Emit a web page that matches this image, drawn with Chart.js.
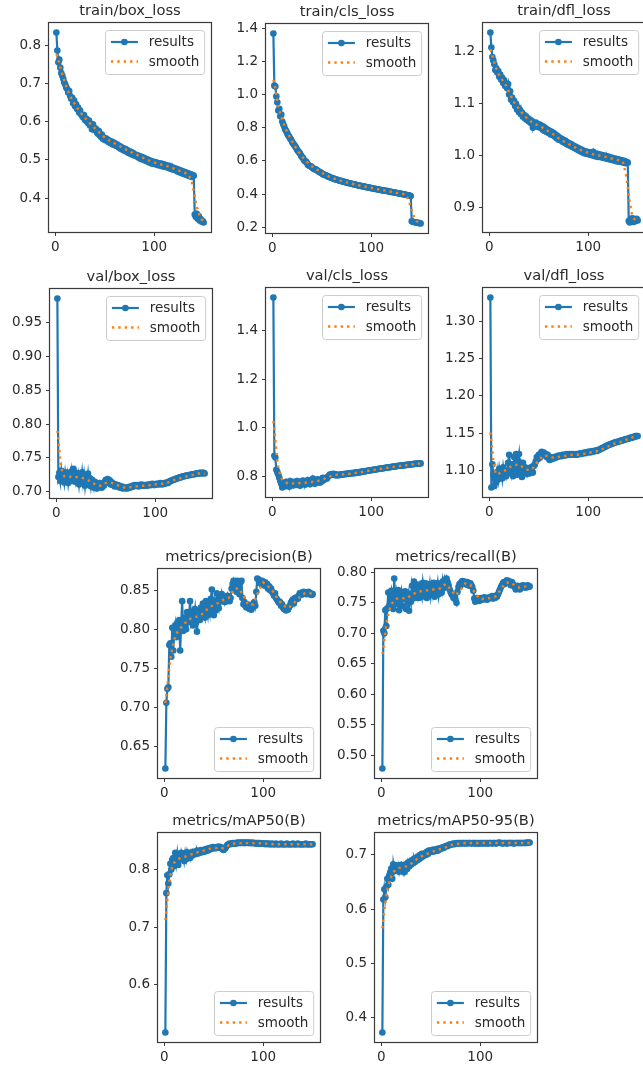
<!DOCTYPE html>
<html><head><meta charset="utf-8">
<script src="https://cdn.jsdelivr.net/npm/chart.js@4.4.0/dist/chart.umd.min.js"></script>
<style>
html,body{margin:0;padding:0;background:#fff;width:643px;height:1065px;overflow:hidden;position:relative}
.pane{position:absolute}
.pane canvas{display:block}
</style></head><body>
<script>
// ---------- data ----------
const EPOCHS = [1,2,3,4,5,6,7,8,9,10,11,12,13,14,15,16,17,18,19,20,21,22,23,24,25,26,27,28,29,30,31,32,33,34,35,36,37,38,39,40,41,42,43,44,45,46,47,48,49,50,51,52,53,54,55,56,57,58,59,60,61,62,63,64,65,66,67,68,69,70,71,72,73,74,75,76,77,78,79,80,81,82,83,84,85,86,87,88,89,90,91,92,93,94,95,96,97,98,99,100,101,102,103,104,105,106,107,108,109,110,111,112,113,114,115,116,117,118,119,120,121,122,123,124,125,126,127,128,129,130,131,132,133,134,135,136,137,138,139,140,141,142,143,144,145,146,147,148,149,150];
const SMOOTH_EPOCHS = [1,2,3,4,5,6,8,10,13,16,20,25,30,35,40,45,50,55,60,65,70,75,80,85,90,95,100,105,110,115,120,125,130,135,138,140,142,144,146,148,150];

const TITLES = ['train/box_loss','train/cls_loss','train/dfl_loss','val/box_loss','val/cls_loss','val/dfl_loss','metrics/precision(B)','metrics/recall(B)','metrics/mAP50(B)','metrics/mAP50-95(B)'];
const SERIES_LABELS = ['results','smooth'];
const X_TICKS = ['0','100'];

const TRAIN_BOX = [0.833,0.786,0.755,0.762,0.741,0.727,0.720,0.712,0.702,0.697,
0.689,0.685,0.676,0.680,0.667,0.660,0.662,0.648,0.655,0.640,
0.645,0.633,0.637,0.624,0.629,0.619,0.615,0.611,0.617,0.604,
0.608,0.600,0.596,0.603,0.591,0.589,0.580,0.593,0.585,0.578,
0.581,0.572,0.568,0.575,0.564,0.560,0.566,0.555,0.558,0.552,
0.556,0.550,0.553,0.546,0.549,0.543,0.548,0.540,0.545,0.538,
0.542,0.536,0.539,0.532,0.536,0.529,0.533,0.526,0.530,0.524,
0.528,0.521,0.525,0.518,0.522,0.516,0.520,0.513,0.517,0.511,
0.514,0.509,0.512,0.506,0.510,0.503,0.508,0.501,0.506,0.499,
0.503,0.497,0.501,0.494,0.499,0.492,0.497,0.490,0.495,0.489,
0.494,0.488,0.492,0.486,0.491,0.485,0.490,0.483,0.489,0.482,
0.487,0.481,0.485,0.479,0.484,0.477,0.482,0.475,0.480,0.474,
0.478,0.472,0.476,0.469,0.474,0.467,0.472,0.465,0.470,0.463,
0.468,0.461,0.466,0.459,0.464,0.457,0.462,0.455,0.460,0.458,
0.357,0.351,0.359,0.346,0.353,0.341,0.345,0.338,0.340,0.336];
const TRAIN_BOX_SMOOTH = [0.776,0.770,0.762,0.752,0.742,0.732,0.715,0.699,0.679,0.662,
0.644,0.625,0.610,0.595,0.583,0.570,0.558,0.550,0.543,0.536,0.529,0.522,0.516,0.510,0.504,0.498,0.493,0.489,0.486,0.482,0.477,0.472,0.467,0.461,
0.442,0.418,0.390,0.370,0.353,0.344,0.339];

const TRAIN_CLS = [1.370,1.055,1.050,0.990,0.955,0.905,0.915,0.870,0.880,0.838,
0.822,0.808,0.790,0.781,0.768,0.755,0.748,0.735,0.728,0.714,
0.705,0.698,0.688,0.680,0.667,0.660,0.652,0.645,0.632,0.624,
0.618,0.605,0.598,0.596,0.588,0.576,0.572,0.569,0.568,0.562,
0.556,0.553,0.548,0.550,0.543,0.540,0.535,0.531,0.530,0.526,
0.520,0.518,0.515,0.513,0.510,0.507,0.505,0.501,0.500,0.497,
0.495,0.493,0.490,0.489,0.487,0.485,0.483,0.481,0.480,0.478,
0.476,0.475,0.473,0.471,0.470,0.468,0.467,0.465,0.464,0.462,
0.461,0.459,0.458,0.457,0.455,0.454,0.452,0.451,0.450,0.448,
0.447,0.446,0.445,0.443,0.442,0.441,0.440,0.438,0.437,0.436,
0.435,0.433,0.432,0.431,0.430,0.429,0.428,0.426,0.425,0.424,
0.423,0.422,0.421,0.420,0.418,0.420,0.417,0.415,0.414,0.413,
0.412,0.411,0.410,0.409,0.408,0.406,0.405,0.404,0.403,0.402,
0.400,0.399,0.398,0.397,0.396,0.394,0.393,0.392,0.390,0.388,
0.236,0.233,0.231,0.230,0.229,0.228,0.226,0.225,0.224,0.222];
const TRAIN_CLS_SMOOTH = [1.090,1.070,1.040,1.000,0.965,0.935,0.885,0.848,0.800,0.763,
0.718,0.668,0.627,0.594,0.568,0.548,0.528,0.512,0.499,0.488,0.479,0.471,0.463,0.456,0.449,0.443,0.437,0.431,0.425,0.420,0.414,0.408,0.403,0.397,
0.360,0.322,0.282,0.252,0.236,0.229,0.226];

const TRAIN_DFL = [1.237,1.208,1.190,1.183,1.176,1.165,1.168,1.160,1.163,1.152,
1.156,1.146,1.150,1.140,1.145,1.134,1.139,1.130,1.138,1.118,
1.124,1.108,1.112,1.103,1.106,1.096,1.100,1.089,1.093,1.084,
1.088,1.080,1.083,1.075,1.079,1.072,1.076,1.069,1.072,1.066,
1.070,1.063,1.067,1.054,1.062,1.058,1.064,1.057,1.061,1.055,
1.060,1.054,1.058,1.050,1.056,1.048,1.053,1.046,1.050,1.044,
1.048,1.041,1.046,1.040,1.044,1.037,1.041,1.034,1.038,1.031,
1.035,1.030,1.033,1.027,1.031,1.025,1.029,1.023,1.026,1.021,
1.024,1.019,1.022,1.017,1.020,1.015,1.018,1.013,1.016,1.011,
1.014,1.009,1.012,1.007,1.010,1.005,1.009,1.004,1.008,1.003,
1.007,1.002,1.006,1.001,1.008,1.000,1.005,0.999,1.004,0.998,
1.003,0.998,1.002,0.997,1.001,0.996,1.000,0.995,0.999,0.994,
0.998,0.993,0.997,0.992,0.996,0.991,0.995,0.990,0.994,0.989,
0.993,0.989,0.992,0.988,0.991,0.987,0.990,0.986,0.988,0.987,
0.875,0.872,0.879,0.874,0.880,0.873,0.877,0.875,0.879,0.876];
const TRAIN_DFL_SMOOTH = [1.205,1.200,1.193,1.186,1.179,1.172,1.163,1.155,1.146,1.138,
1.122,1.103,1.090,1.078,1.069,1.062,1.058,1.053,1.047,1.041,1.034,1.028,1.023,1.018,1.013,1.009,1.006,1.003,1.001,0.999,0.997,0.994,0.992,0.989,
0.966,0.940,0.911,0.890,0.880,0.877,0.877];

const VAL_BOX = [0.985,0.722,0.728,0.716,0.731,0.719,0.725,0.714,0.729,0.720,
0.727,0.713,0.724,0.718,0.730,0.716,0.734,0.721,0.715,0.728,
0.719,0.726,0.711,0.723,0.717,0.729,0.714,0.725,0.709,0.722,
0.716,0.727,0.712,0.720,0.708,0.718,0.713,0.706,0.715,0.710,
0.705,0.711,0.707,0.713,0.708,0.706,0.712,0.709,0.715,0.718,
0.716,0.719,0.713,0.717,0.711,0.714,0.710,0.712,0.708,0.711,
0.709,0.710,0.707,0.709,0.706,0.708,0.705,0.707,0.706,0.705,
0.706,0.705,0.707,0.706,0.708,0.707,0.709,0.708,0.710,0.709,
0.709,0.710,0.708,0.710,0.709,0.711,0.709,0.710,0.709,0.710,
0.710,0.709,0.711,0.710,0.711,0.710,0.712,0.711,0.710,0.711,
0.712,0.711,0.712,0.711,0.713,0.712,0.711,0.712,0.713,0.712,
0.713,0.714,0.713,0.715,0.716,0.716,0.717,0.718,0.718,0.719,
0.719,0.720,0.720,0.721,0.721,0.722,0.722,0.723,0.723,0.723,
0.724,0.724,0.724,0.725,0.725,0.725,0.726,0.726,0.726,0.726,
0.727,0.727,0.727,0.727,0.728,0.728,0.727,0.728,0.728,0.727];
const VAL_BOX_SMOOTH = [0.790,0.778,0.762,0.746,0.736,0.729,0.723,0.722,0.722,0.723,
0.722,0.721,0.719,0.715,0.710,0.709,0.713,0.714,0.711,0.708,0.706,0.707,0.708,0.709,0.709,0.710,0.711,0.712,0.712,0.715,0.718,0.720,0.722,0.724,
0.725,0.726,0.727,0.727,0.727,0.727,0.727];

const VAL_CLS = [1.535,0.885,0.878,0.828,0.818,0.808,0.795,0.782,0.770,0.755,
0.762,0.772,0.760,0.778,0.766,0.773,0.758,0.781,0.769,0.775,
0.763,0.778,0.770,0.765,0.781,0.768,0.774,0.762,0.779,0.771,
0.784,0.772,0.766,0.776,0.770,0.786,0.773,0.768,0.779,0.774,
0.792,0.778,0.770,0.783,0.776,0.789,0.780,0.775,0.784,0.780,
0.795,0.786,0.790,0.794,0.791,0.798,0.802,0.808,0.806,0.810,
0.808,0.811,0.806,0.809,0.804,0.807,0.805,0.808,0.807,0.809,
0.808,0.810,0.809,0.811,0.810,0.812,0.811,0.813,0.812,0.814,
0.813,0.815,0.814,0.816,0.815,0.817,0.816,0.818,0.818,0.819,
0.820,0.821,0.821,0.822,0.823,0.824,0.824,0.825,0.826,0.826,
0.827,0.828,0.828,0.829,0.830,0.830,0.831,0.832,0.832,0.833,
0.833,0.834,0.835,0.835,0.836,0.837,0.837,0.838,0.838,0.839,
0.840,0.840,0.841,0.841,0.842,0.843,0.843,0.844,0.844,0.845,
0.845,0.846,0.846,0.847,0.847,0.848,0.848,0.849,0.849,0.850,
0.850,0.851,0.851,0.852,0.852,0.853,0.853,0.853,0.854,0.854];
const VAL_CLS_SMOOTH = [1.028,0.995,0.950,0.905,0.868,0.840,0.805,0.787,0.776,0.772,
0.772,0.772,0.774,0.775,0.778,0.781,0.786,0.795,0.803,0.807,0.808,0.810,0.812,0.815,0.818,0.822,0.826,0.829,0.832,0.835,0.838,0.841,0.844,0.846,
0.848,0.849,0.850,0.851,0.852,0.853,0.853];

const VAL_DFL = [1.332,1.077,1.108,1.094,1.079,1.091,1.084,1.098,1.088,1.102,
1.093,1.099,1.089,1.104,1.095,1.100,1.092,1.098,1.110,1.121,
1.104,1.096,1.108,1.092,1.118,1.101,1.122,1.094,1.113,1.122,
1.099,1.106,1.091,1.110,1.097,1.104,1.099,1.095,1.102,1.098,
1.096,1.104,1.100,1.097,1.106,1.108,1.112,1.118,1.115,1.121,
1.117,1.123,1.125,1.122,1.124,1.120,1.122,1.118,1.121,1.116,
1.114,1.118,1.115,1.117,1.116,1.118,1.117,1.119,1.118,1.120,
1.119,1.120,1.119,1.121,1.120,1.121,1.120,1.122,1.121,1.121,
1.122,1.121,1.122,1.121,1.122,1.121,1.121,1.122,1.121,1.122,
1.122,1.123,1.122,1.123,1.123,1.124,1.123,1.124,1.124,1.125,
1.125,1.124,1.125,1.126,1.125,1.126,1.126,1.127,1.126,1.127,
1.128,1.128,1.129,1.130,1.130,1.131,1.132,1.132,1.133,1.134,
1.134,1.135,1.135,1.136,1.136,1.137,1.137,1.138,1.138,1.138,
1.139,1.139,1.140,1.140,1.140,1.141,1.141,1.142,1.142,1.142,
1.143,1.143,1.144,1.144,1.144,1.145,1.145,1.146,1.146,1.146];
const VAL_DFL_SMOOTH = [1.151,1.140,1.127,1.114,1.104,1.098,1.094,1.096,1.098,1.100,
1.104,1.107,1.108,1.103,1.100,1.104,1.114,1.120,1.119,1.117,1.118,1.119,1.120,1.121,1.121,1.122,1.123,1.125,1.126,1.129,1.132,1.135,1.137,1.139,
1.141,1.142,1.143,1.144,1.145,1.145,1.146];

const PRECISION = [0.622,0.706,0.724,0.726,0.780,0.782,0.765,0.802,0.773,0.795,
0.805,0.790,0.808,0.798,0.812,0.773,0.806,0.836,0.798,0.810,
0.815,0.800,0.822,0.809,0.818,0.836,0.812,0.820,0.805,0.817,
0.826,0.808,0.797,0.819,0.823,0.812,0.828,0.816,0.833,0.820,
0.815,0.836,0.826,0.818,0.831,0.822,0.839,0.851,0.829,0.818,
0.834,0.824,0.846,0.832,0.827,0.841,0.836,0.845,0.838,0.842,
0.835,0.840,0.836,0.843,0.838,0.836,0.840,0.852,0.858,0.862,
0.855,0.860,0.848,0.862,0.850,0.845,0.860,0.862,0.840,0.832,
0.835,0.830,0.828,0.832,0.830,0.826,0.829,0.825,0.828,0.833,
0.835,0.830,0.848,0.865,0.864,0.860,0.862,0.858,0.862,0.859,
0.856,0.860,0.855,0.858,0.852,0.855,0.850,0.852,0.848,0.846,
0.843,0.846,0.840,0.838,0.836,0.834,0.835,0.830,0.832,0.828,
0.826,0.828,0.824,0.826,0.825,0.828,0.830,0.834,0.836,0.838,
0.833,0.840,0.838,0.841,0.839,0.843,0.846,0.844,0.847,0.845,
0.848,0.846,0.847,0.845,0.846,0.848,0.845,0.846,0.844,0.845];
const PRECISION_SMOOTH = [0.706,0.716,0.728,0.740,0.751,0.761,0.776,0.787,0.796,0.801,
0.807,0.813,0.815,0.817,0.821,0.828,0.831,0.834,0.838,0.840,0.851,0.853,0.843,0.831,0.832,0.848,0.860,0.855,0.848,0.838,0.831,0.827,0.832,0.839,
0.842,0.844,0.846,0.846,0.846,0.846,0.846];

const RECALL = [0.478,0.704,0.700,0.738,0.712,0.741,0.767,0.745,0.763,0.770,
0.752,0.740,0.790,0.755,0.766,0.748,0.771,0.738,0.760,0.768,
0.745,0.762,0.757,0.769,0.740,0.756,0.764,0.737,0.761,0.752,
0.778,0.767,0.785,0.758,0.772,0.763,0.780,0.758,0.776,0.768,
0.760,0.783,0.771,0.765,0.782,0.758,0.774,0.769,0.781,0.763,
0.777,0.766,0.783,0.760,0.775,0.770,0.782,0.764,0.778,0.772,
0.767,0.785,0.774,0.788,0.781,0.790,0.784,0.779,0.772,0.768,
0.764,0.762,0.758,0.761,0.755,0.750,0.768,0.776,0.781,0.778,
0.784,0.786,0.782,0.785,0.783,0.780,0.784,0.781,0.778,0.782,
0.779,0.776,0.770,0.757,0.752,0.754,0.758,0.755,0.753,0.756,
0.758,0.755,0.757,0.759,0.756,0.758,0.755,0.757,0.759,0.758,
0.758,0.761,0.757,0.760,0.758,0.762,0.760,0.764,0.768,0.772,
0.776,0.779,0.782,0.784,0.781,0.785,0.787,0.784,0.786,0.783,
0.779,0.784,0.781,0.778,0.776,0.772,0.774,0.778,0.775,0.772,
0.774,0.777,0.779,0.776,0.778,0.775,0.777,0.779,0.776,0.777];
const RECALL_SMOOTH = [0.666,0.675,0.690,0.703,0.714,0.724,0.738,0.747,0.754,0.757,
0.758,0.757,0.762,0.767,0.769,0.770,0.772,0.772,0.774,0.781,0.772,0.762,0.771,0.782,0.780,0.765,0.756,0.757,0.758,0.760,0.770,0.782,0.784,0.779,
0.776,0.775,0.776,0.776,0.777,0.777,0.777];

const MAP50 = [0.517,0.759,0.790,0.776,0.792,0.810,0.800,0.817,0.820,0.806,
0.829,0.812,0.827,0.808,0.824,0.818,0.829,0.821,0.826,0.815,
0.828,0.818,0.830,0.822,0.827,0.820,0.829,0.824,0.831,0.826,
0.830,0.827,0.833,0.828,0.832,0.829,0.834,0.830,0.833,0.831,
0.835,0.832,0.836,0.833,0.837,0.835,0.838,0.836,0.839,0.837,
0.838,0.837,0.839,0.838,0.840,0.838,0.839,0.837,0.835,0.834,
0.836,0.838,0.841,0.843,0.844,0.845,0.844,0.845,0.846,0.845,
0.846,0.845,0.846,0.847,0.846,0.847,0.846,0.847,0.847,0.846,
0.847,0.846,0.847,0.847,0.846,0.847,0.846,0.846,0.847,0.846,
0.846,0.846,0.845,0.846,0.846,0.845,0.846,0.845,0.845,0.845,
0.845,0.844,0.845,0.845,0.844,0.845,0.844,0.844,0.845,0.844,
0.844,0.844,0.845,0.844,0.844,0.844,0.844,0.845,0.844,0.844,
0.844,0.844,0.844,0.845,0.844,0.844,0.844,0.844,0.844,0.845,
0.844,0.844,0.844,0.844,0.845,0.844,0.844,0.844,0.844,0.844,
0.844,0.844,0.845,0.844,0.844,0.844,0.844,0.844,0.844,0.844];
const MAP50_SMOOTH = [0.712,0.730,0.748,0.765,0.778,0.790,0.805,0.812,0.817,0.820,
0.822,0.825,0.828,0.831,0.833,0.836,0.837,0.838,0.837,0.842,0.845,0.846,0.846,0.846,0.846,0.846,0.845,0.845,0.844,0.844,0.844,0.844,0.844,0.844,
0.844,0.844,0.844,0.844,0.844,0.844,0.844];

const MAP50_95 = [0.373,0.618,0.637,0.622,0.641,0.656,0.645,0.662,0.668,0.675,
0.656,0.683,0.670,0.678,0.681,0.672,0.680,0.669,0.677,0.682,
0.671,0.679,0.668,0.676,0.683,0.674,0.686,0.679,0.688,0.682,
0.690,0.685,0.693,0.687,0.695,0.690,0.697,0.692,0.700,0.695,
0.702,0.697,0.699,0.703,0.700,0.706,0.702,0.708,0.705,0.707,
0.709,0.706,0.710,0.707,0.709,0.711,0.708,0.712,0.710,0.713,
0.712,0.714,0.713,0.715,0.716,0.717,0.716,0.718,0.719,0.719,
0.720,0.720,0.721,0.720,0.721,0.721,0.722,0.721,0.722,0.722,
0.721,0.722,0.722,0.721,0.722,0.722,0.721,0.722,0.722,0.722,
0.721,0.722,0.722,0.721,0.722,0.722,0.721,0.722,0.721,0.722,
0.722,0.721,0.722,0.722,0.721,0.722,0.722,0.721,0.722,0.722,
0.722,0.721,0.722,0.722,0.722,0.721,0.722,0.722,0.723,0.722,
0.722,0.722,0.721,0.722,0.722,0.722,0.721,0.722,0.722,0.722,
0.722,0.722,0.722,0.721,0.722,0.722,0.722,0.722,0.722,0.722,
0.722,0.722,0.722,0.722,0.722,0.722,0.723,0.722,0.723,0.723];
const MAP50_95_SMOOTH = [0.565,0.583,0.598,0.612,0.625,0.636,0.650,0.660,0.670,0.675,
0.677,0.679,0.684,0.691,0.697,0.701,0.705,0.708,0.711,0.714,0.718,0.720,0.721,0.722,0.722,0.722,0.722,0.722,0.722,0.722,0.722,0.722,0.722,0.722,
0.722,0.722,0.722,0.722,0.722,0.722,0.722];

const YT_TRAIN_BOX = ['0.4','0.5','0.6','0.7','0.8'];
const YT_TRAIN_CLS = ['0.2','0.4','0.6','0.8','1.0','1.2','1.4'];
const YT_TRAIN_DFL = ['0.9','1.0','1.1','1.2'];
const YT_VAL_BOX = ['0.70','0.75','0.80','0.85','0.90','0.95'];
const YT_VAL_CLS = ['0.8','1.0','1.2','1.4'];
const YT_VAL_DFL = ['1.10','1.15','1.20','1.25','1.30'];
const YT_PRECISION = ['0.65','0.70','0.75','0.80','0.85'];
const YT_RECALL = ['0.50','0.55','0.60','0.65','0.70','0.75','0.80'];
const YT_MAP50 = ['0.6','0.7','0.8'];
const YT_MAP50_95 = ['0.4','0.5','0.6','0.7'];

// ---------- layout & style ----------
const FONT = '"DejaVu Sans"';
const TXT = '#2a2a2a';
const FRAME = '#3a3a3a';
const BLUE = '#1f77b4';
const ORANGE = '#ff7f0e';
const PL = 52, PT = 23, PR = 12, PB = 28, W = 162, H = 209;
const TICK_FS = 13.5, TITLE_FS = 14.7, LEG_FS = 13.5;

const PANELS = [
  {title:TITLES[0], values:TRAIN_BOX, smooth:TRAIN_BOX_SMOOTH, yTicks:YT_TRAIN_BOX, left:49, top:23, loc:'ur'},
  {title:TITLES[1], values:TRAIN_CLS, smooth:TRAIN_CLS_SMOOTH, yTicks:YT_TRAIN_CLS, left:266, top:24, loc:'ur'},
  {title:TITLES[2], values:TRAIN_DFL, smooth:TRAIN_DFL_SMOOTH, yTicks:YT_TRAIN_DFL, left:483, top:23, loc:'ur'},
  {title:TITLES[3], values:VAL_BOX, smooth:VAL_BOX_SMOOTH, yTicks:YT_VAL_BOX, left:50, top:289, loc:'ur'},
  {title:TITLES[4], values:VAL_CLS, smooth:VAL_CLS_SMOOTH, yTicks:YT_VAL_CLS, left:266, top:288, loc:'ur'},
  {title:TITLES[5], values:VAL_DFL, smooth:VAL_DFL_SMOOTH, yTicks:YT_VAL_DFL, left:483, top:288, loc:'ur'},
  {title:TITLES[6], values:PRECISION, smooth:PRECISION_SMOOTH, yTicks:YT_PRECISION, left:158, top:569, loc:'lr'},
  {title:TITLES[7], values:RECALL, smooth:RECALL_SMOOTH, yTicks:YT_RECALL, left:375, top:569, loc:'lr'},
  {title:TITLES[8], values:MAP50, smooth:MAP50_SMOOTH, yTicks:YT_MAP50, left:158, top:833, loc:'lr'},
  {title:TITLES[9], values:MAP50_95, smooth:MAP50_95_SMOOTH, yTicks:YT_MAP50_95, left:375, top:833, loc:'lr'}
];

const framePlugin = {
  id: 'mplFrame',
  afterDatasetsDraw(chart) {
    const {ctx, chartArea: a} = chart;
    ctx.save();
    ctx.strokeStyle = FRAME;
    ctx.lineWidth = 1.2;
    ctx.strokeRect(Math.round(a.left) - 0.5, Math.round(a.top) - 0.5, Math.round(a.right - a.left) + 1, Math.round(a.bottom - a.top) + 1);
    ctx.restore();
  }
};

function roundRectPath(ctx, x, y, w, h, r) {
  ctx.beginPath();
  ctx.moveTo(x + r, y);
  ctx.lineTo(x + w - r, y); ctx.arcTo(x + w, y, x + w, y + r, r);
  ctx.lineTo(x + w, y + h - r); ctx.arcTo(x + w, y + h, x + w - r, y + h, r);
  ctx.lineTo(x + r, y + h); ctx.arcTo(x, y + h, x, y + h - r, r);
  ctx.lineTo(x, y + r); ctx.arcTo(x, y, x + r, y, r);
  ctx.closePath();
}

const legendPlugin = {
  id: 'mplLegend',
  afterDraw(chart, args, opts) {
    const {ctx, chartArea: a} = chart;
    const fs = LEG_FS;
    const dss = chart.data.datasets;
    ctx.save();
    ctx.font = fs + 'px ' + FONT;
    const tw = Math.max(...dss.map(d => ctx.measureText(d.label).width));
    const bw = fs * 0.4 * 2 + fs * 2 + fs * 0.8 + tw;
    const bh = 44;
    const bx = Math.round(a.right - 7 - bw) + 0.5;
    const by = Math.round(opts.loc === 'lr' ? a.bottom - 7 - bh : a.top + 7) + 0.5;
    roundRectPath(ctx, bx, by, bw, bh, 3);
    ctx.fillStyle = 'rgba(255,255,255,0.8)';
    ctx.fill();
    ctx.strokeStyle = '#cccccc';
    ctx.lineWidth = 1;
    ctx.stroke();
    const hx = bx + fs * 0.4, hl = fs * 2;
    const rows = [by + 11.5, by + 31];
    dss.forEach((d, i) => {
      const y = rows[i];
      ctx.save();
      ctx.strokeStyle = d.borderColor;
      ctx.lineWidth = d.borderWidth;
      ctx.setLineDash(d.borderDash || []);
      ctx.beginPath(); ctx.moveTo(hx, y); ctx.lineTo(hx + hl, y); ctx.stroke();
      if (d.pointRadius > 0) {
        ctx.setLineDash([]);
        ctx.fillStyle = d.pointBackgroundColor;
        ctx.beginPath(); ctx.arc(hx + hl / 2, y, d.pointRadius, 0, Math.PI * 2); ctx.fill();
      }
      ctx.restore();
      ctx.fillStyle = TXT;
      ctx.textBaseline = 'middle';
      ctx.textAlign = 'left';
      ctx.fillText(d.label, hx + hl + fs * 0.8, y + 0.5);
    });
    ctx.restore();
  }
};

Chart.defaults.font.family = FONT;

function makeChart(p) {
  const div = document.createElement('div');
  div.className = 'pane';
  div.style.left = (p.left - PL) + 'px';
  div.style.top = (p.top - PT) + 'px';
  div.style.width = (PL + W + PR) + 'px';
  div.style.height = (PT + H + PB) + 'px';
  const cv = document.createElement('canvas');
  div.appendChild(cv);
  document.body.appendChild(div);

  const ys = p.values;
  const lo = Math.min(...ys), hi = Math.max(...ys);
  const ypad = (hi - lo) * 0.05;
  const x0 = EPOCHS[0], x1 = EPOCHS[EPOCHS.length - 1];
  const xpad = (x1 - x0) * 0.05;
  const titleLH = TITLE_FS * 1.2;

  const gridOpts = {display: true, drawOnChartArea: false, drawTicks: true, tickLength: 4, color: FRAME, tickWidth: 1};
  const tickFont = {family: FONT, size: TICK_FS};

  new Chart(cv, {
    type: 'line',
    data: {
      datasets: [
        {label: SERIES_LABELS[0], data: EPOCHS.map((e, i) => ({x: e, y: ys[i]})), order: 2,
         borderColor: BLUE, backgroundColor: BLUE, borderWidth: 2.2, pointRadius: 3.3, pointBorderWidth: 0,
         pointBackgroundColor: BLUE, pointHoverRadius: 0, tension: 0, fill: false},
        {label: SERIES_LABELS[1], data: SMOOTH_EPOCHS.map((e, i) => ({x: e, y: p.smooth[i]})), order: 1,
         borderColor: ORANGE, backgroundColor: ORANGE, borderWidth: 2.4, borderDash: [2.4, 4],
         borderCapStyle: 'butt', pointRadius: 0, pointHoverRadius: 0, tension: 0, fill: false}
      ]
    },
    options: {
      responsive: true, maintainAspectRatio: false, animation: false, events: [],
      layout: {padding: {left: 0, right: PR, top: 0, bottom: 0}},
      plugins: {
        legend: {display: false},
        tooltip: {enabled: false},
        title: {display: true, text: p.title, fullSize: false, color: TXT,
                font: {family: FONT, size: TITLE_FS, weight: 'normal', lineHeight: 1.2},
                padding: {top: 2, bottom: PT - 2 - titleLH}},
        mplLegend: {loc: p.loc}
      },
      scales: {
        x: {
          type: 'linear', min: x0 - xpad, max: x1 + xpad,
          afterFit: s => { s.height = PB; },
          afterBuildTicks: ax => { ax.ticks = X_TICKS.map(t => ({value: parseFloat(t)})); },
          ticks: {callback: (v, i) => X_TICKS[i], font: tickFont, color: TXT, padding: 3, maxRotation: 0, autoSkip: false},
          grid: gridOpts, border: {display: false}
        },
        y: {
          type: 'linear', min: lo - ypad, max: hi + ypad,
          afterFit: s => { s.width = PL; },
          afterBuildTicks: ax => { ax.ticks = p.yTicks.map(t => ({value: parseFloat(t)})); },
          ticks: {callback: (v, i) => p.yTicks[i], font: tickFont, color: TXT, padding: 4, autoSkip: false},
          grid: gridOpts, border: {display: false}
        }
      }
    },
    plugins: [framePlugin, legendPlugin]
  });
}

PANELS.forEach(makeChart);
</script>
</body></html>
